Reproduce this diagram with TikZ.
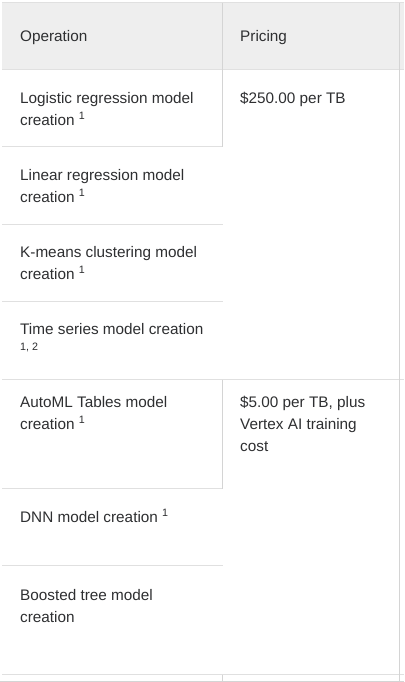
\documentclass[tikz,border=0pt]{standalone}
\usepackage{fontspec}
\setmainfont{Liberation Sans}
\definecolor{headbg}{HTML}{EEEEEE}
\definecolor{rule}{HTML}{E0E0E0}
\definecolor{rule2}{HTML}{D4D4D4}
\definecolor{ink}{HTML}{2E2F31}
\begin{document}
\begin{tikzpicture}[x=1pt,y=-1pt,
  cell/.style={anchor=base west,inner sep=0pt,align=left,text=ink,
    font=\fontsize{15.3}{22}\selectfont},
  hline/.style={draw=rule,line width=1.2pt},
  vline/.style={draw=rule2,line width=1pt}]
\useasboundingbox (0,0) rectangle (404,682);
\fill[white] (0,0) rectangle (404,682);
% header
\fill[headbg] (2,3) rectangle (404,69);
\draw[hline] (2,2.5) -- (404,2.5);
\draw[hline] (2,69.5) -- (404,69.5);
% row rules
\draw[hline] (2,146.5) -- (222.5,146.5);
\draw[hline] (2,224.5) -- (222.5,224.5);
\draw[hline] (2,301.5) -- (222.5,301.5);
\draw[hline] (2,379.5) -- (404,379.5);
\draw[hline] (2,488.5) -- (222.5,488.5);
\draw[hline] (2,565.5) -- (222.5,565.5);
\draw[hline] (2,674.5) -- (404,674.5);
\draw[draw=rule2,line width=1.5pt] (0,681.5) -- (404,681.5);
% vertical rules
\draw[vline] (222.5,3) -- (222.5,146.5);
\draw[vline] (222.5,379.5) -- (222.5,488.5);
\draw[vline] (222.5,674.5) -- (222.5,682);
\draw[vline] (399.5,3) -- (399.5,682);
% header text
\node[cell] (hop) at (20,42) {Operation};
\node[cell] (hpr) at (240,42) {Pricing};
% rows (anchor = baseline of last line)
\node[cell] (logr) at (20,125) {Logistic regression model\\creation \textsuperscript{1}};
\node[cell] (p250) at (240,103) {\$250.00 per TB};
\node[cell] (linr) at (20,202) {Linear regression model\\creation \textsuperscript{1}};
\node[cell] (kmc) at (20,279) {K-means clustering model\\creation \textsuperscript{1}};
\node[cell] (tsm) at (20,356) {Time series model creation\\\textsuperscript{1, 2}};
\node[cell] (aml) at (20,429) {AutoML Tables model\\creation \textsuperscript{1}};
\node[cell] (p5) at (240,451) {\$5.00 per TB, plus\\Vertex AI training\\cost};
\node[cell] (dnn) at (20,522) {DNN model creation \textsuperscript{1}};
\node[cell] (bst) at (20,622) {Boosted tree model\\creation};
\end{tikzpicture}
\end{document}
